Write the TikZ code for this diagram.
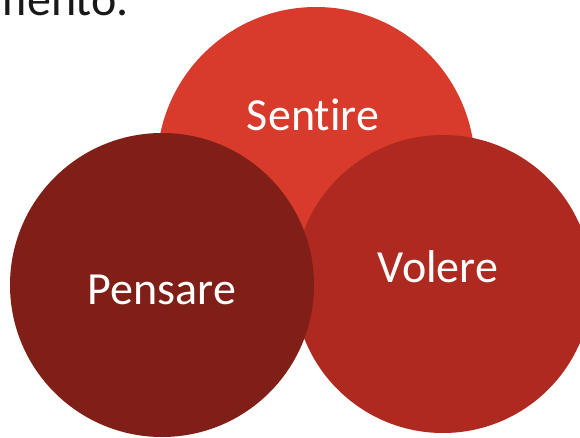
\documentclass[tikz,border=0pt]{standalone}
\usepackage{fontspec}
\setmainfont{Carlito}[RawFeature={-liga}]
\definecolor{cSentire}{HTML}{D83A2B}
\definecolor{cVolere}{HTML}{AE2A20}
\definecolor{cPensare}{HTML}{7F1F17}
\begin{document}
\begin{tikzpicture}[x=1pt,y=-1pt,
  disc/.style={circle, inner sep=0pt, outer sep=0pt, draw=none},
  lbl/.style={text=white, inner sep=0pt, anchor=base, font=\fontsize{46}{55}\selectfont}]
\useasboundingbox (0,0) rectangle (580,438);
\clip (0,0) rectangle (580,438);
\fill[white] (0,0) rectangle (580,438);
\node[anchor=base east, inner sep=0pt, text=black!90, font=\fontsize{48}{58}\selectfont] (top) at (129,16) {mento.};
\node[disc, fill=cSentire, minimum size=318pt] (sentireC) at (316,166) {};
\node[disc, fill=cVolere, minimum size=298pt] (volereC) at (443,284) {};
\node[disc, fill=cPensare, minimum size=304pt] (pensareC) at (162,285) {};
\node[lbl] (sentire) at (313,131) {Sentire};
\node[lbl] (pensare) at (162,304) {Pensare};
\node[lbl] (volere) at (438,282) {Volere};
\end{tikzpicture}
\end{document}
